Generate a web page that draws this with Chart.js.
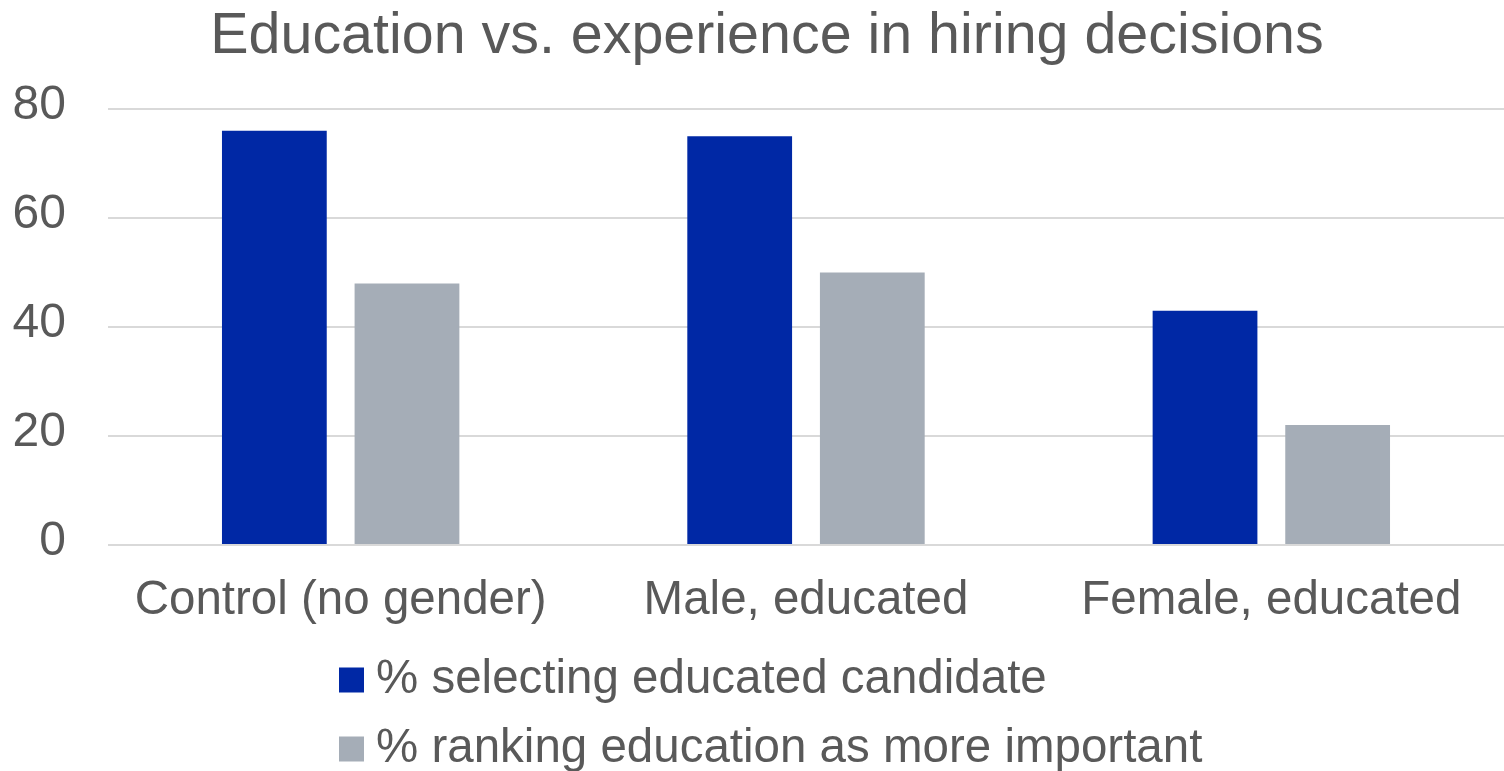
<!DOCTYPE html>
<html>
<head>
<meta charset="utf-8">
<title>Education vs. experience in hiring decisions</title>
<script src="https://cdn.jsdelivr.net/npm/chart.js@4"></script>
<style>
  html, body { margin: 0; padding: 0; background: #ffffff; }
  #wrap { width: 1504px; height: 771px; position: relative; overflow: hidden; }
</style>
</head>
<body>
<div id="wrap"><canvas id="chart" width="1504" height="771"></canvas></div>
<script>
// Chart data
const titleText = 'Education vs. experience in hiring decisions';
const categories = ['Control (no gender)', 'Male, educated', 'Female, educated'];
const seriesNames = ['% selecting educated candidate', '% ranking education as more important'];
const selectingEducated = [76, 75, 43];
const rankingEducation = [48, 50, 22];
const yTicks = [0, 20, 40, 60, 80];

const FONT = '"Liberation Sans", Arial, Helvetica, sans-serif';
const TEXT = '#595959';
const COLORS = ['#0028A5', '#A5ADB7'];

// Title and a left-aligned stacked legend, drawn on the canvas
const titleAndLegend = {
  id: 'titleAndLegend',
  afterDraw(chart) {
    const ctx = chart.ctx;
    ctx.save();
    ctx.fillStyle = TEXT;
    ctx.font = '57.4px ' + FONT;
    ctx.textAlign = 'center';
    ctx.textBaseline = 'alphabetic';
    ctx.fillText(titleText, 767, 53);

    const rows = [680, 749];
    ctx.font = '47.5px ' + FONT;
    ctx.textAlign = 'left';
    ctx.textBaseline = 'middle';
    chart.data.datasets.forEach((ds, i) => {
      const cy = rows[i];
      ctx.fillStyle = ds.backgroundColor;
      ctx.fillRect(339, cy - 12.5, 25, 25);
      ctx.fillStyle = TEXT;
      ctx.fillText(ds.label, 376, cy);
    });
    ctx.restore();
  }
};

new Chart(document.getElementById('chart'), {
  type: 'bar',
  data: {
    labels: categories,
    datasets: [
      { label: seriesNames[0], data: selectingEducated, backgroundColor: COLORS[0] },
      { label: seriesNames[1], data: rankingEducation, backgroundColor: COLORS[1] }
    ]
  },
  options: {
    responsive: false,
    animation: false,
    devicePixelRatio: 1,
    categoryPercentage: 0.57,
    barPercentage: 0.79,
    layout: { padding: { top: 109, bottom: 115, left: 13, right: -4 } },
    plugins: {
      legend: { display: false },
      title: { display: false },
      tooltip: { enabled: false }
    },
    scales: {
      x: {
        grid: { display: false, drawTicks: false },
        border: { display: false },
        ticks: {
          color: TEXT,
          font: { family: FONT, size: 47.5 },
          padding: 27,
          maxRotation: 0,
          autoSkip: false
        }
      },
      y: {
        min: 0,
        max: 80,
        afterBuildTicks(scale) { scale.ticks = yTicks.map(v => ({ value: v })); },
        afterFit(scale) { scale.width = 95; },
        grid: { color: '#D9D9D9', lineWidth: 2, drawTicks: false },
        border: { display: false },
        ticks: {
          color: TEXT,
          font: { family: FONT, size: 48 },
          padding: 42,
          labelOffset: -3
        }
      }
    }
  },
  plugins: [titleAndLegend]
});
</script>
</body>
</html>
